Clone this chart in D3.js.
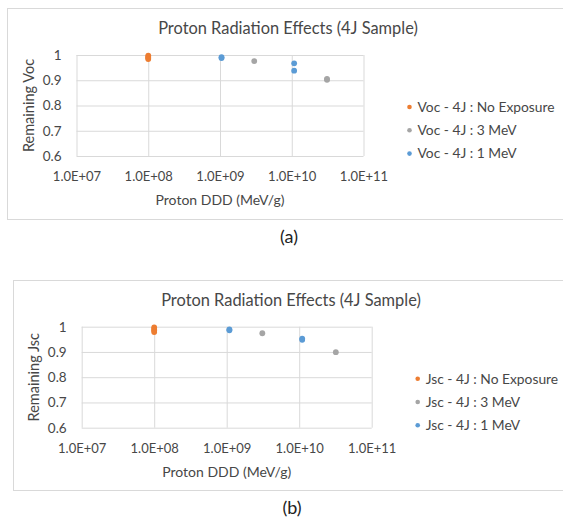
<!DOCTYPE html>
<html>
<head>
<meta charset="utf-8">
<script src="https://cdn.jsdelivr.net/npm/d3@7"></script>
<style>
	body { margin: 0; background: #fff; }
	text { font-family: Lato, 'Open Sans', sans-serif; }
</style>
</head>
<body>
<svg id="chart" width="563" height="521"></svg>
<script>
var xTicks = [1e7, 1e8, 1e9, 1e10, 1e11];
var xTickLabels = ['1.0E+07', '1.0E+08', '1.0E+09', '1.0E+10', '1.0E+11'];
var yTicks = [0.6, 0.7, 0.8, 0.9, 1];
var yTickLabels = ['0.6', '0.7', '0.8', '0.9', '1'];
var seriesLabels = ['No Exposure', '3 MeV', '1 MeV'];

// panel (a): Voc, [proton DDD, remaining]
var vocNoExposure = [[1e8, 0.997], [1e8, 0.992], [1e8, 0.988], [1e8, 0.984]];
var voc3MeV = [[3.0e9, 0.976], [3.1e10, 0.905], [3.1e10, 0.902]];
var voc1MeV = [[1.05e9, 0.991], [1.05e9, 0.988], [1.08e10, 0.967], [1.08e10, 0.938]];

// panel (b): Jsc
var jscNoExposure = [[1e8, 0.997], [1e8, 0.991], [1e8, 0.985], [1e8, 0.979]];
var jsc3MeV = [[3.1e9, 0.974], [3.2e10, 0.899]];
var jsc1MeV = [[1.09e9, 0.989], [1.09e9, 0.986], [1.1e10, 0.953], [1.1e10, 0.948]];

var colors = ['#ED7D31', '#A5A5A5', '#5B9BD5'];
var textColor = '#474747';
var gridColor = '#d9d9d9';

var svg = d3.select('#chart');

function drawPanel(cfg) {
	var g = svg.append('g');

	// outer chart box
	g.append('rect')
		.attr('x', cfg.box[0] + 0.5)
		.attr('y', cfg.box[1] + 0.5)
		.attr('width', 600)
		.attr('height', cfg.box[2] - cfg.box[1])
		.attr('fill', '#fff')
		.attr('stroke', gridColor);

	var x = d3.scaleLog().domain([1e7, 1e11]).range([cfg.left, cfg.right]);
	var y = d3.scaleLinear().domain([0.6, 1]).range([cfg.bottom, cfg.top]);

	var xAxis = d3.axisBottom(x)
		.tickValues(xTicks)
		.tickFormat(function(d, i) { return xTickLabels[i]; })
		.tickSize(-(cfg.bottom - cfg.top))
		.tickPadding(16);

	var yAxis = d3.axisLeft(y)
		.tickValues(yTicks)
		.tickFormat(function(d, i) { return yTickLabels[i]; })
		.tickSize(-(cfg.right - cfg.left))
		.tickPadding(15);

	var gx = g.append('g').attr('transform', 'translate(0,' + cfg.bottom + ')').call(xAxis);
	var gy = g.append('g').attr('transform', 'translate(' + cfg.left + ',0)').call(yAxis);

	[gx, gy].forEach(function(a) {
		a.select('.domain').remove();
		a.selectAll('line').attr('stroke', gridColor);
		a.selectAll('text')
			.attr('fill', textColor)
			.style('font-family', 'Lato, sans-serif');
	});
	gx.selectAll('text').attr('font-size', '13px');
	gy.selectAll('text').attr('font-size', '13.5px');

	// points
	cfg.series.forEach(function(s, i) {
		g.append('g')
			.selectAll('circle')
			.data(s)
			.enter()
			.append('circle')
			.attr('cx', function(d) { return x(d[0]); })
			.attr('cy', function(d) { return y(d[1]); })
			.attr('r', 2.9)
			.attr('fill', colors[i]);
	});

	// title
	g.append('text')
		.attr('x', cfg.titleX)
		.attr('y', cfg.top - 21)
		.attr('text-anchor', 'middle')
		.attr('font-size', '16.4px')
		.attr('fill', textColor)
		.text('Proton Radiation Effects (4J Sample)');

	g.append('text')
		.attr('x', (cfg.left + cfg.right) / 2)
		.attr('y', cfg.bottom + 49)
		.attr('text-anchor', 'middle')
		.attr('font-size', '14px')
		.attr('fill', textColor)
		.text('Proton DDD (MeV/g)');

	g.append('text')
		.attr('transform', 'translate(' + (cfg.left - 43) + ',' + (cfg.top + cfg.bottom) / 2 + ') rotate(-90)')
		.attr('text-anchor', 'middle')
		.attr('font-size', '14.5px')
		.attr('fill', textColor)
		.text('Remaining ' + cfg.name);

	// legend
	var lg = g.append('g').attr('transform', 'translate(' + (cfg.right + 46) + ',' + (cfg.top + 52) + ')');
	seriesLabels.forEach(function(label, i) {
		lg.append('circle')
			.attr('cx', 0)
			.attr('cy', i * 23.3)
			.attr('r', 2.3)
			.attr('fill', colors[i]);
		lg.append('text')
			.attr('x', 8)
			.attr('y', i * 23.3 + 4.8)
			.attr('font-size', '13.8px')
			.attr('fill', textColor)
			.text(cfg.name + ' - 4J : ' + label);
	});

	// caption under the box
	svg.append('text')
		.attr('x', cfg.caption[0])
		.attr('y', cfg.caption[1])
		.attr('text-anchor', 'middle')
		.attr('font-size', '18px')
		.attr('fill', '#222')
		.text(cfg.label);
}

drawPanel({
	name: 'Voc', label: '(a)',
	box: [7, 8, 219],
	left: 76.5, right: 363.5, top: 55, bottom: 156,
	titleX: 288,
	caption: [289, 243],
	series: [vocNoExposure, voc3MeV, voc1MeV]
});

drawPanel({
	name: 'Jsc', label: '(b)',
	box: [13, 280, 490],
	left: 81.7, right: 371.7, top: 326.7, bottom: 427.7,
	titleX: 291,
	caption: [292, 514],
	series: [jscNoExposure, jsc3MeV, jsc1MeV]
});
</script>
</body>
</html>
